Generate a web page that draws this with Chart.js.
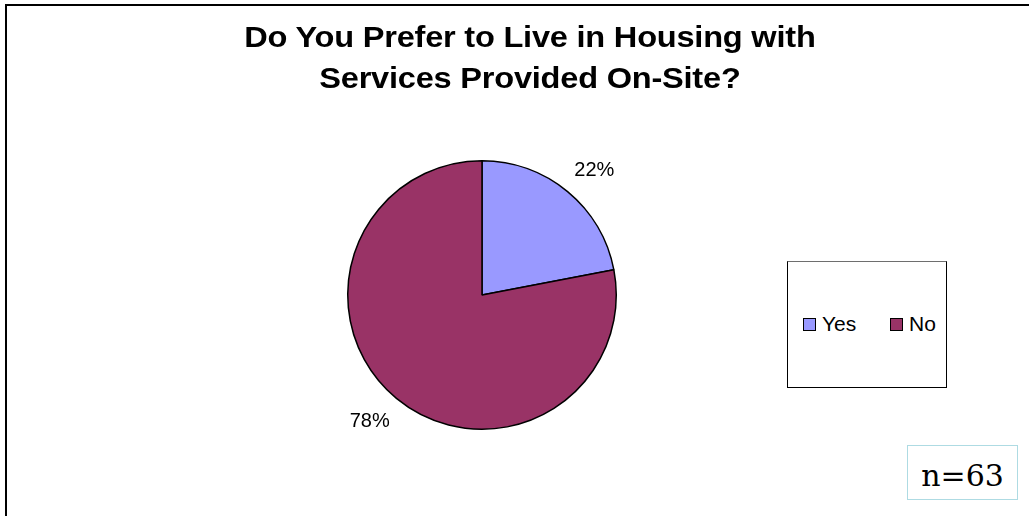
<!DOCTYPE html>
<html>
<head>
<meta charset="utf-8">
<title>Do You Prefer to Live in Housing with Services Provided On-Site?</title>
<script src="https://cdn.jsdelivr.net/npm/chart.js@4/dist/chart.umd.min.js"></script>
<style>
  html, body { margin: 0; padding: 0; background: #fff; overflow: hidden; }
  #wrap { position: relative; width: 1029px; height: 516px; overflow: hidden; }
  #frame {
    position: absolute; left: 5px; top: 4px; width: 1100px; height: 600px;
    border: 2px solid #000; box-sizing: border-box;
  }
  #pie { position: absolute; left: 0; top: 0; }
  #title {
    position: absolute; left: 0; width: 1060px; top: 16px;
    font: bold 30px "Liberation Sans", Arial, sans-serif; line-height: 41px;
    text-align: center; color: #000; letter-spacing: -0.2px;
    transform: scaleX(1.085); transform-origin: 531px 0;
  }
  #legend {
    position: absolute; left: 787px; top: 261px; width: 160px; height: 127px;
    box-sizing: border-box; border: 1px solid #000; border-top-color: #6e6e6e;
    background: #fff;
    font: 21px "Liberation Sans", Arial, sans-serif; color: #000;
  }
  .item { position: absolute; top: 50px; height: 24px; display: flex; align-items: center; }
  .swatch { width: 13px; height: 13px; box-sizing: border-box; border: 1px solid #000; margin-right: 6px; }
  #nbox {
    position: absolute; left: 907px; top: 445px; width: 111px; height: 55px;
    box-sizing: border-box; border: 1px solid #aedbe3; background: #fff;
    display: flex; align-items: center; justify-content: center;
    font: 30px "DejaVu Serif", serif; color: #000; padding-top: 5px;
  }
</style>
</head>
<body>
<div id="wrap">
  <div id="frame"></div>
  <canvas id="pie" width="1029" height="516"></canvas>
  <div id="title">Do You Prefer to Live in Housing with<br>Services Provided On-Site?</div>
  <div id="legend"></div>
  <div id="nbox">n=63</div>
</div>
<script>
// Survey answers (percent of respondents)
const categories = ['Yes', 'No'];
const values = [22, 78];
const colors = ['#9999ff', '#993366'];
const legendX = [15, 102];

// Percent labels placed just outside each slice
const pctLabels = {
  id: 'pctLabels',
  afterDatasetsDraw(chart) {
    const ctx = chart.ctx;
    const meta = chart.getDatasetMeta(0);
    ctx.save();
    ctx.font = '20px "Liberation Sans", Arial, sans-serif';
    ctx.fillStyle = '#000';
    ctx.textAlign = 'center';
    ctx.textBaseline = 'middle';
    meta.data.forEach((arc, i) => {
      const p = arc.getProps(['x', 'y', 'startAngle', 'endAngle', 'outerRadius'], true);
      const mid = (p.startAngle + p.endAngle) / 2 + 0.04;
      const r = p.outerRadius + 34;
      ctx.fillText(values[i] + '%', p.x + Math.cos(mid) * r, p.y + Math.sin(mid) * r + 1);
    });
    ctx.restore();
  }
};

new Chart(document.getElementById('pie'), {
  type: 'pie',
  data: {
    labels: categories,
    datasets: [{
      data: values,
      backgroundColor: colors,
      borderColor: '#000',
      borderWidth: 1.5,
      hoverOffset: 0
    }]
  },
  options: {
    responsive: false,
    animation: false,
    events: [],
    layout: { padding: { left: 347, right: 412, top: 160, bottom: 86 } },
    plugins: {
      legend: { display: false },
      tooltip: { enabled: false },
      title: { display: false }
    }
  },
  plugins: [pctLabels]
});

// Legend box entries
const legend = document.getElementById('legend');
categories.forEach((name, i) => {
  const item = document.createElement('div');
  item.className = 'item';
  item.style.left = legendX[i] + 'px';
  const sw = document.createElement('span');
  sw.className = 'swatch';
  sw.style.background = colors[i];
  const tx = document.createElement('span');
  tx.textContent = name;
  item.appendChild(sw);
  item.appendChild(tx);
  legend.appendChild(item);
});
</script>
</body>
</html>
